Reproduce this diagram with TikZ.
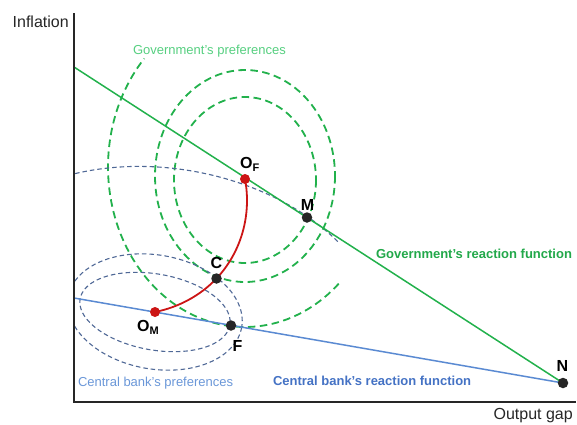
\documentclass[tikz,border=0pt]{standalone}
\usepackage{fontspec}
\setmainfont{Liberation Sans}
\definecolor{axisgrey}{HTML}{262626}
\definecolor{govgreen}{HTML}{22B14C}
\definecolor{govtext}{HTML}{56CF80}
\definecolor{govbold}{HTML}{22A84A}
\definecolor{cbblue}{HTML}{5A8AD2}
\definecolor{cbbold}{HTML}{4472C4}
\definecolor{cbtext}{HTML}{6A97D8}
\definecolor{cbgrey}{HTML}{4F6896}
\definecolor{pathred}{HTML}{CC1515}
\newcommand\lowsub[1]{\raisebox{-3pt}{\fontsize{11}{11}\selectfont #1}}
\begin{document}
\begin{tikzpicture}[x=1pt,y=-1pt,
  axisline/.style={draw=axisgrey, line width=1.8pt},
  govline/.style={draw=govgreen, line width=1.5pt},
  cbline/.style={draw=cbblue, line width=1.5pt},
  govpref/.style={draw=govgreen, line width=1.8pt, dash pattern=on 7.5pt off 4.5pt},
  cbpref/.style={draw=cbgrey, line width=1.1pt, dash pattern=on 4.5pt off 3pt},
  pathcurve/.style={draw=pathred, line width=1.8pt},
  dotblack/.style={circle, fill=axisgrey, inner sep=0pt, minimum size=10.5pt},
  dotred/.style={circle, fill=pathred, inner sep=0pt, minimum size=10pt},
  smalltext/.style={inner sep=0pt, outer sep=0pt, font=\fontsize{13}{13}\selectfont},
  axislabel/.style={inner sep=0pt, text=axisgrey, font=\fontsize{16}{16}\selectfont},
  ptlabel/.style={inner sep=0pt, text=black, font=\fontsize{16}{16}\selectfont\bfseries},
]
\useasboundingbox (0,0) rectangle (577,424);

% key points
\coordinate (origin) at (74,402);
\coordinate (ytop) at (74,13);
\coordinate (xend) at (576,402);
\coordinate (govstart) at (74,67);
\coordinate (cbstart) at (74,298);
\coordinate (pOF) at (245,179);
\coordinate (pM) at (307,217.5);
\coordinate (pC) at (216.5,278.5);
\coordinate (pOM) at (155,312);
\coordinate (pF) at (231,325.5);
\coordinate (pN) at (563,383);

% government's indifference curves
\draw[govpref] (245,180) ellipse [x radius=71, y radius=83];
\draw[govpref] (245,176) ellipse [x radius=90, y radius=106];
\draw[govpref] plot[domain=46.8:222.7, samples=90]
  ({245+137*cos(\x)}, {167+160*sin(\x)});

% central bank's indifference curves
\begin{scope}
  \clip (74,0) rectangle (577,424);
  \draw[cbpref] plot[domain=0:360, samples=121]
    ({155+76*cos(\x)*cos(10)-38*sin(\x)*sin(10)}, {312+76*cos(\x)*sin(10)+38*sin(\x)*cos(10)});
  \draw[cbpref] plot[domain=0:360, samples=121]
    ({155+88*cos(\x)*cos(10)-57*sin(\x)*sin(10)}, {312+88*cos(\x)*sin(10)+57*sin(\x)*cos(10)});
  \draw[cbpref] plot[domain=233:316, samples=80]
    ({168+215*cos(\x)*cos(10)-145*sin(\x)*sin(10)}, {314+215*cos(\x)*sin(10)+145*sin(\x)*cos(10)});
\end{scope}

% reaction functions
\draw[govline] (govstart) -- (pN);
\draw[cbline] (cbstart) -- (pN);

% axes
\draw[axisline] (ytop) -- (origin) -- (xend);

% bargaining path
\draw[pathcurve] (pOF) .. controls (251.7,214.7) and (241.4,252) .. (pC)
  .. controls (200,295.9) and (178.3,307.3) .. (pOM);

% points
\node[dotred] (OF) at (pOF) {};
\node[dotred] (OM) at (pOM) {};
\node[dotblack] (M) at (pM) {};
\node[dotblack] (C) at (pC) {};
\node[dotblack] (F) at (pF) {};
\node[dotblack] (N) at (pN) {};

% point labels
\node[ptlabel, anchor=base west] (OFlabel) at (240,168) {O\lowsub{F}};
\node[ptlabel, anchor=base] (Mlabel) at (307.5,210) {M};
\node[ptlabel, anchor=base] (Clabel) at (216.5,268) {C};
\node[ptlabel, anchor=base west] (OMlabel) at (137,331) {O\lowsub{M}};
\node[ptlabel, anchor=base] (Flabel) at (237.5,351) {F};
\node[ptlabel, anchor=base] (Nlabel) at (562.5,371) {N};

% axis labels
\node[axislabel, anchor=base west] (ylabel) at (12.5,27.5) {Inflation};
\node[axislabel, anchor=base east] (xlabel) at (573,419) {Output gap};

% curve labels
\node[smalltext, text=govtext, anchor=base west] (govpreflabel) at (133,54) {Government’s preferences};
\node[smalltext, text=govbold, font=\fontsize{13}{13}\selectfont\bfseries, anchor=base west] (govrflabel) at (376,258) {Government’s reaction function};
\node[smalltext, text=cbbold, font=\fontsize{13}{13}\selectfont\bfseries, anchor=base west] (cbrflabel) at (273,385) {Central bank’s reaction function};
\node[smalltext, text=cbtext, anchor=base west] (cbpreflabel) at (78,386) {Central bank’s preferences};
\end{tikzpicture}
\end{document}
